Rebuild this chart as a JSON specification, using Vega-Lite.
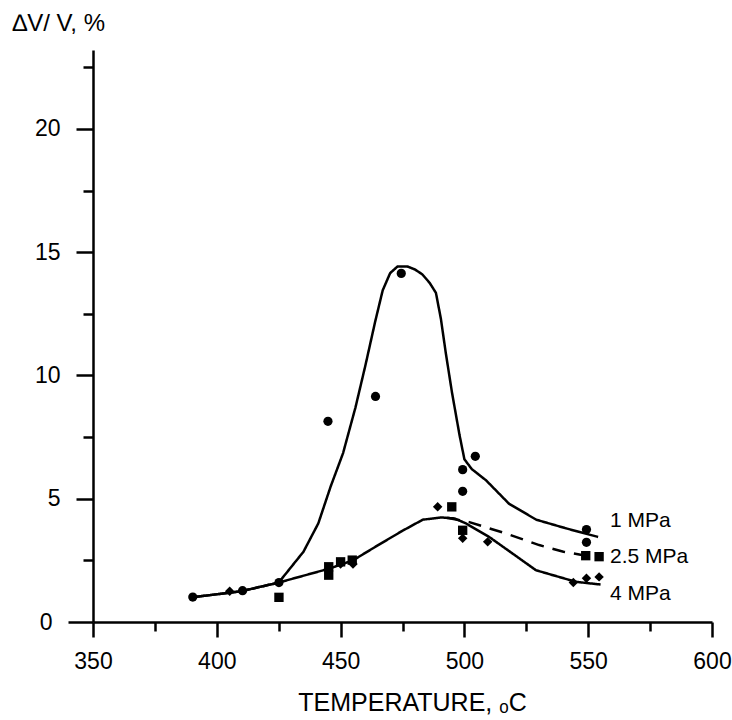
{
  "$schema": "https://vega.github.io/schema/vega-lite/v6.json",
  "autosize": {"type": "none"},
  "padding": {"left": 93, "top": 50, "right": 20, "bottom": 98},
  "width": 619,
  "height": 572,
  "background": "white",
  "config": {
    "view": {"stroke": null},
    "font": "Liberation Sans",
    "axis": {
      "domainColor": "black", "domainWidth": 2.5, "tickColor": "black", "tickWidth": 2.5,
      "labelColor": "black", "labelFont": "Liberation Sans", "labelFontSize": 23,
      "titleColor": "black", "titleFont": "Liberation Sans", "titleFontWeight": "normal",
      "grid": false
    }
  },
  "datasets": {
    "curves": [
      {"series": "1 MPa", "i": 1, "x": 390, "y": 1.0},
      {"series": "1 MPa", "i": 2, "x": 410, "y": 1.25},
      {"series": "1 MPa", "i": 3, "x": 425, "y": 1.6},
      {"series": "1 MPa", "i": 4, "x": 435, "y": 2.85},
      {"series": "1 MPa", "i": 5, "x": 441, "y": 4.0},
      {"series": "1 MPa", "i": 6, "x": 446, "y": 5.5},
      {"series": "1 MPa", "i": 7, "x": 451, "y": 6.85},
      {"series": "1 MPa", "i": 8, "x": 456, "y": 8.7},
      {"series": "1 MPa", "i": 9, "x": 460, "y": 10.4},
      {"series": "1 MPa", "i": 10, "x": 464, "y": 12.2},
      {"series": "1 MPa", "i": 11, "x": 467, "y": 13.45},
      {"series": "1 MPa", "i": 12, "x": 470, "y": 14.15},
      {"series": "1 MPa", "i": 13, "x": 473, "y": 14.42},
      {"series": "1 MPa", "i": 14, "x": 477, "y": 14.42},
      {"series": "1 MPa", "i": 15, "x": 480, "y": 14.3},
      {"series": "1 MPa", "i": 16, "x": 483, "y": 14.1},
      {"series": "1 MPa", "i": 17, "x": 486, "y": 13.75},
      {"series": "1 MPa", "i": 18, "x": 488.5, "y": 13.35},
      {"series": "1 MPa", "i": 19, "x": 490.5, "y": 12.3},
      {"series": "1 MPa", "i": 20, "x": 492.5, "y": 10.9},
      {"series": "1 MPa", "i": 21, "x": 495, "y": 9.3},
      {"series": "1 MPa", "i": 22, "x": 498, "y": 7.6},
      {"series": "1 MPa", "i": 23, "x": 500, "y": 6.6},
      {"series": "1 MPa", "i": 24, "x": 503, "y": 6.2},
      {"series": "1 MPa", "i": 25, "x": 508.7, "y": 5.75},
      {"series": "1 MPa", "i": 26, "x": 518, "y": 4.8},
      {"series": "1 MPa", "i": 27, "x": 529, "y": 4.15},
      {"series": "1 MPa", "i": 28, "x": 541, "y": 3.8},
      {"series": "1 MPa", "i": 29, "x": 554, "y": 3.45},
      {"series": "4 MPa", "i": 1, "x": 390, "y": 1.0},
      {"series": "4 MPa", "i": 2, "x": 410, "y": 1.25},
      {"series": "4 MPa", "i": 3, "x": 425, "y": 1.6},
      {"series": "4 MPa", "i": 4, "x": 445.6, "y": 2.17},
      {"series": "4 MPa", "i": 5, "x": 455, "y": 2.5},
      {"series": "4 MPa", "i": 6, "x": 465.7, "y": 3.15},
      {"series": "4 MPa", "i": 7, "x": 475, "y": 3.7},
      {"series": "4 MPa", "i": 8, "x": 483.2, "y": 4.15},
      {"series": "4 MPa", "i": 9, "x": 490.6, "y": 4.24},
      {"series": "4 MPa", "i": 10, "x": 496, "y": 4.2},
      {"series": "4 MPa", "i": 11, "x": 500.6, "y": 4.0},
      {"series": "4 MPa", "i": 12, "x": 510, "y": 3.45},
      {"series": "4 MPa", "i": 13, "x": 519.4, "y": 2.78},
      {"series": "4 MPa", "i": 14, "x": 528.9, "y": 2.1},
      {"series": "4 MPa", "i": 15, "x": 545, "y": 1.63},
      {"series": "4 MPa", "i": 16, "x": 555, "y": 1.52},
      {"series": "2.5 MPa", "i": 1, "x": 493, "y": 4.23},
      {"series": "2.5 MPa", "i": 2, "x": 502, "y": 4.05},
      {"series": "2.5 MPa", "i": 3, "x": 516.8, "y": 3.59},
      {"series": "2.5 MPa", "i": 4, "x": 530.2, "y": 3.12},
      {"series": "2.5 MPa", "i": 5, "x": 540, "y": 2.85},
      {"series": "2.5 MPa", "i": 6, "x": 548, "y": 2.71}
    ],
    "points": [
      {"series": "1 MPa", "x": 390.3, "y": 1.01},
      {"series": "1 MPa", "x": 410.4, "y": 1.27},
      {"series": "1 MPa", "x": 425.1, "y": 1.6},
      {"series": "1 MPa", "x": 444.9, "y": 8.14},
      {"series": "1 MPa", "x": 464.1, "y": 9.15},
      {"series": "1 MPa", "x": 474.5, "y": 14.14},
      {"series": "1 MPa", "x": 504.4, "y": 6.72},
      {"series": "1 MPa", "x": 499.3, "y": 6.18},
      {"series": "1 MPa", "x": 499.3, "y": 5.3},
      {"series": "1 MPa", "x": 549.3, "y": 3.75},
      {"series": "1 MPa", "x": 549.3, "y": 3.23},
      {"series": "2.5 MPa", "x": 425.1, "y": 1.0},
      {"series": "2.5 MPa", "x": 445.2, "y": 2.24},
      {"series": "2.5 MPa", "x": 445.2, "y": 1.9},
      {"series": "2.5 MPa", "x": 450, "y": 2.44},
      {"series": "2.5 MPa", "x": 454.7, "y": 2.51},
      {"series": "2.5 MPa", "x": 494.9, "y": 4.67},
      {"series": "2.5 MPa", "x": 499.3, "y": 3.72},
      {"series": "2.5 MPa", "x": 549, "y": 2.69},
      {"series": "2.5 MPa", "x": 554.4, "y": 2.65},
      {"series": "4 MPa", "x": 405.2, "y": 1.25},
      {"series": "4 MPa", "x": 450, "y": 2.35},
      {"series": "4 MPa", "x": 455, "y": 2.35},
      {"series": "4 MPa", "x": 489.2, "y": 4.67},
      {"series": "4 MPa", "x": 499.3, "y": 3.4},
      {"series": "4 MPa", "x": 509.4, "y": 3.25},
      {"series": "4 MPa", "x": 544, "y": 1.6},
      {"series": "4 MPa", "x": 549.3, "y": 1.77},
      {"series": "4 MPa", "x": 554.4, "y": 1.83}
    ],
    "labels": [
      {"label": "1 MPa", "x": 558.8, "y": 4.09},
      {"label": "2.5 MPa", "x": 558.8, "y": 2.65},
      {"label": "4 MPa", "x": 558.8, "y": 1.15}
    ]
  },
  "layer": [
    {
      "data": {"name": "curves"},
      "mark": {"type": "line", "color": "black", "strokeWidth": 2.5},
      "encoding": {
        "x": {
          "field": "x", "type": "quantitative",
          "scale": {"domain": [350, 600], "nice": false, "zero": false},
          "axis": {
            "values": [350, 375, 400, 425, 450, 475, 500, 525, 550, 575, 600],
            "tickSize": {"condition": {"test": "datum.value % 50 === 0", "value": 15}, "value": 9},
            "labelExpr": "datum.value % 50 === 0 ? datum.label : ''",
            "labelPadding": 13,
            "labelFlush": false,
            "title": "TEMPERATURE, ₒC",
            "titleFontSize": 25,
            "titleX": 319,
            "titleY": 88,
            "titleAlign": "center",
            "titleBaseline": "alphabetic"
          }
        },
        "y": {
          "field": "y", "type": "quantitative",
          "scale": {"domain": [0, 23.2], "nice": false},
          "axis": {
            "values": [0, 2.5, 5, 7.5, 10, 12.5, 15, 17.5, 20, 22.5],
            "tickSize": {"condition": [{"test": "datum.value === 0", "value": 25}, {"test": "datum.value % 5 === 0", "value": 17}], "value": 10},
            "labelExpr": "datum.value % 5 === 0 ? datum.label : ''",
            "labelPadding": 16,
            "labelFlush": false,
            "title": "∆V/ V,  %",
            "titleFontSize": 24,
            "titleAngle": 0,
            "titleAlign": "left",
            "titleBaseline": "alphabetic",
            "titleX": -81,
            "titleY": -20
          }
        },
        "detail": {"field": "series"},
        "order": {"field": "i"},
        "strokeDash": {
          "field": "series", "type": "nominal",
          "scale": {"domain": ["1 MPa", "2.5 MPa", "4 MPa"], "range": [[1, 0], [13, 9], [1, 0]]},
          "legend": null
        }
      }
    },
    {
      "data": {"name": "points"},
      "mark": {"type": "point", "filled": true, "color": "black", "opacity": 1},
      "encoding": {
        "x": {"field": "x", "type": "quantitative"},
        "y": {"field": "y", "type": "quantitative"},
        "shape": {
          "field": "series", "type": "nominal",
          "scale": {"domain": ["1 MPa", "2.5 MPa", "4 MPa"], "range": ["circle", "square", "diamond"]},
          "legend": null
        },
        "size": {
          "field": "series", "type": "nominal",
          "scale": {"domain": ["1 MPa", "2.5 MPa", "4 MPa"], "range": [85, 90, 75]},
          "legend": null
        }
      }
    },
    {
      "data": {"name": "labels"},
      "mark": {"type": "text", "align": "left", "baseline": "middle", "fontSize": 21, "font": "Liberation Sans", "color": "black"},
      "encoding": {
        "x": {"field": "x", "type": "quantitative"},
        "y": {"field": "y", "type": "quantitative"},
        "text": {"field": "label"}
      }
    }
  ]
}
